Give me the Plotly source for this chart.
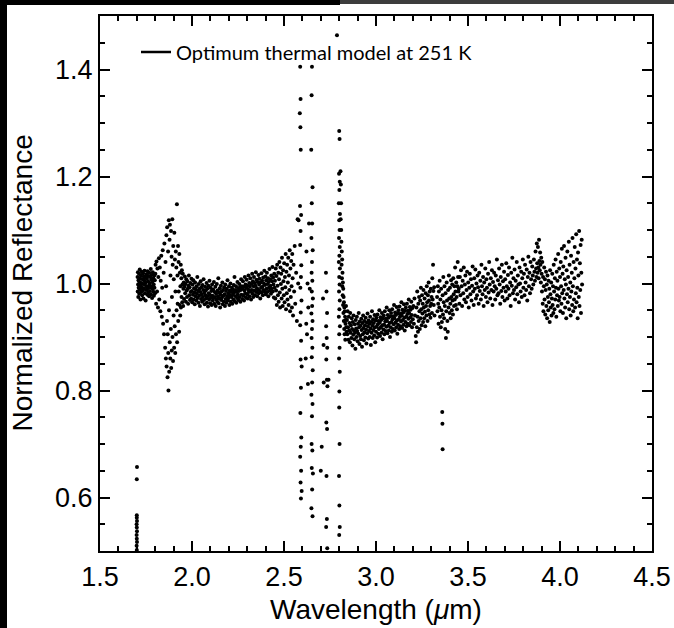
import plotly.graph_objects as go

# ---- data: (wavelength um, normalized reflectance) ----
seg_stack_170 = [(1.700,0.502),(1.699,0.510),(1.701,0.517),(1.700,0.523),(1.699,0.530),(1.701,0.537),(1.700,0.544),(1.699,0.550),(1.701,0.556),(1.700,0.562),(1.700,0.567),(1.700,0.634),(1.701,0.657)]

seg_band_170_180 = [(1.704,1.012),(1.705,0.985),(1.706,1.021),(1.707,0.998),(1.708,0.975),(1.709,1.006),(1.710,0.992),(1.712,1.018),(1.713,0.981),(1.714,1.003),(1.716,1.026),(1.717,0.989),(1.718,1.010),(1.720,0.970),(1.721,0.996),(1.722,1.015),(1.724,0.984),(1.725,1.001),(1.727,1.022),(1.728,0.993),(1.729,0.978),(1.731,1.008),(1.732,0.987),(1.734,1.019),(1.735,0.999),(1.736,0.972),(1.738,1.013),(1.739,0.990),(1.741,1.005),(1.742,1.024),(1.744,0.982),(1.745,0.997),(1.747,1.011),(1.748,0.968),(1.749,1.002),(1.751,0.988),(1.752,1.017),(1.754,0.994),(1.755,1.009),(1.757,0.979),(1.758,1.023),(1.760,0.991),(1.761,1.004),(1.762,0.983),(1.764,1.014),(1.765,0.996),(1.767,0.976),(1.768,1.020),(1.770,1.000),(1.771,0.986),(1.773,1.012),(1.774,0.993),(1.776,1.027),(1.777,0.980),(1.778,1.007),(1.780,0.995),(1.781,1.016),(1.783,0.973),(1.784,1.003),(1.786,0.990),(1.787,1.021),(1.789,0.985),(1.790,1.010),(1.792,0.998),(1.793,0.977),(1.795,1.015),(1.796,0.992),(1.798,1.006),(1.799,0.982),(1.801,1.018)]

seg_feature_185 = [(1.802,1.035),(1.805,0.962),(1.807,1.041),(1.810,0.985),(1.812,1.028),(1.815,0.955),(1.817,1.012),(1.820,1.047),(1.822,0.970),(1.825,1.030),(1.828,0.948),(1.830,1.005),(1.833,1.052),(1.836,0.938),(1.838,0.992),(1.841,1.062),(1.843,0.925),(1.846,1.020),(1.848,0.905),(1.850,1.075),(1.852,0.965),(1.854,0.880),(1.856,1.040),(1.858,0.860),(1.859,0.995),(1.861,1.090),(1.862,0.845),(1.864,0.930),(1.865,1.105),(1.867,0.825),(1.868,0.905),(1.870,1.060),(1.871,0.870),(1.872,0.800),(1.874,1.118),(1.875,0.950),(1.876,0.835),(1.878,1.082),(1.879,0.890),(1.880,1.110),(1.882,0.860),(1.883,1.015),(1.885,0.915),(1.886,1.098),(1.887,0.842),(1.889,1.050),(1.890,0.875),(1.891,0.975),(1.893,1.120),(1.894,0.900),(1.895,1.035),(1.897,0.855),(1.898,1.070),(1.900,0.940),(1.901,1.008),(1.903,0.880),(1.904,1.095),(1.906,0.920),(1.907,1.045),(1.909,0.870),(1.910,0.985),(1.912,1.060),(1.913,0.905),(1.915,1.030),(1.916,0.950),(1.918,1.148),(1.919,0.890),(1.921,1.015),(1.922,0.962),(1.924,1.070),(1.925,0.930),(1.927,1.040),(1.928,0.985),(1.930,0.910),(1.931,1.055),(1.933,0.960),(1.934,1.020),(1.936,0.940),(1.937,0.995),(1.939,1.035),(1.940,0.955),(1.942,1.010),(1.943,0.975),(1.945,1.025),(1.947,0.965),(1.948,0.998),(1.950,1.018),(1.952,0.958),(1.953,0.990)]

seg_band_195_245 = [(1.955,1.002),(1.957,0.971),(1.959,0.994),(1.961,1.013),(1.963,0.982),(1.965,0.999),(1.967,0.966),(1.969,1.008),(1.971,0.987),(1.973,0.975),
(1.975,1.004),(1.977,0.990),(1.979,0.962),(1.981,0.996),(1.983,1.015),(1.985,0.978),(1.987,0.993),(1.989,0.969),(1.991,1.001),(1.993,0.984),
(1.995,0.972),(1.997,1.009),(1.999,0.986),(2.001,0.965),(2.003,0.998),(2.005,0.979),(2.007,1.006),(2.009,0.970),(2.011,0.991),(2.013,0.983),
(2.015,0.961),(2.017,1.002),(2.019,0.976),(2.021,0.989),(2.023,0.968),(2.025,0.995),(2.027,0.981),(2.029,1.012),(2.031,0.973),(2.033,0.986),
(2.035,0.964),(2.037,0.999),(2.039,0.977),(2.041,0.990),(2.043,0.958),(2.045,0.984),(2.047,1.004),(2.049,0.971),(2.051,0.993),(2.053,0.980),
(2.055,0.966),(2.057,0.997),(2.059,0.975),(2.061,0.988),(2.063,1.008),(2.065,0.969),(2.067,0.983),(2.069,0.961),(2.071,0.994),(2.073,0.978),
(2.075,0.987),(2.077,0.972),(2.079,1.001),(2.081,0.964),(2.083,0.990),(2.085,0.976),(2.087,0.957),(2.089,0.996),(2.091,0.982),(2.093,0.970),
(2.095,1.005),(2.097,0.979),(2.099,0.963),(2.101,0.992),(2.103,0.974),(2.105,0.986),(2.107,0.960),(2.109,0.998),(2.111,0.977),(2.113,0.968),
(2.115,0.989),(2.117,0.973),(2.119,1.003),(2.121,0.962),(2.123,0.984),(2.125,0.975),(2.127,0.994),(2.129,0.958),(2.131,0.981),(2.133,0.970),
(2.135,0.999),(2.137,0.966),(2.139,0.987),(2.141,0.976),(2.143,1.010),(2.145,0.963),(2.147,0.983),(2.149,0.972),(2.151,0.991),(2.153,0.955),
(2.155,0.979),(2.157,0.996),(2.159,0.969),(2.161,0.985),(2.163,0.974),(2.165,1.002),(2.167,0.961),(2.169,0.988),(2.171,0.977),(2.173,0.966),
(2.175,0.993),(2.177,0.980),(2.179,0.958),(2.181,0.998),(2.183,0.971),(2.185,0.986),(2.187,0.964),(2.189,0.990),(2.191,0.976),(2.193,1.006),
(2.195,0.968),(2.197,0.982),(2.199,0.973),(2.201,0.995),(2.203,0.960),(2.205,0.987),(2.207,0.978),(2.209,1.000),(2.211,0.966),(2.213,0.984),
(2.215,0.975),(2.217,0.992),(2.219,0.962),(2.221,0.989),(2.223,0.979),(2.225,0.970),(2.227,0.997),(2.229,0.983),(2.231,1.012),(2.233,0.967),
(2.235,0.988),(2.237,0.976),(2.239,0.995),(2.241,0.964),(2.243,0.985),(2.245,0.973),(2.247,1.003),(2.249,0.980),(2.251,0.991),(2.253,0.969),
(2.255,0.986),(2.257,0.999),(2.259,0.975),(2.261,0.993),(2.263,0.966),(2.265,0.988),(2.267,1.008),(2.269,0.979),(2.271,0.995),(2.273,0.971),
(2.275,0.990),(2.277,1.004),(2.279,0.977),(2.281,0.994),(2.283,0.968),(2.285,0.987),(2.287,1.012),(2.289,0.982),(2.291,0.998),(2.293,0.974),
(2.295,0.992),(2.297,1.007),(2.299,0.980),(2.301,0.996),(2.303,0.972),(2.305,0.989),(2.307,1.015),(2.309,0.984),(2.311,1.001),(2.313,0.976),
(2.315,0.994),(2.317,1.010),(2.319,0.985),(2.321,0.970),(2.323,0.999),(2.325,0.988),(2.327,1.018),(2.329,0.981),(2.331,1.004),(2.333,0.975),
(2.335,0.995),(2.337,1.012),(2.339,0.987),(2.341,1.001),(2.343,0.978),(2.345,0.996),(2.347,1.021),(2.349,0.984),(2.351,1.007),(2.353,0.991),
(2.355,0.976),(2.357,1.003),(2.359,0.989),(2.361,1.016),(2.363,0.982),(2.365,0.998),(2.367,1.009),(2.369,0.986),(2.371,0.972),(2.373,1.002),
(2.375,0.992),(2.377,1.019),(2.379,0.983),(2.381,1.005),(2.383,0.994),(2.385,0.978),(2.387,1.011),(2.389,0.988),(2.391,1.000),(2.393,1.024),
(2.395,0.985),(2.397,0.997),(2.399,1.013),(2.401,0.980),(2.403,1.006),(2.405,0.990),(2.407,1.020),(2.409,0.984),(2.411,0.999),(2.413,1.010),
(2.415,0.976),(2.417,1.003),(2.419,0.993),(2.421,1.027),(2.423,0.987),(2.425,1.008),(2.427,0.996),(2.429,0.981),(2.431,1.015),(2.433,0.990),
(2.435,1.004),(2.437,1.031),(2.439,0.985),(2.441,1.011),(2.443,0.998),(2.445,0.974),(2.447,1.018),(2.449,0.992)]

seg_scatter_245_258 = [(2.451,1.005),(2.453,0.972),(2.455,1.028),(2.457,0.987),(2.459,1.014),(2.461,0.960),(2.463,1.035),(2.465,0.996),(2.467,0.978),(2.469,1.020),
(2.471,0.966),(2.473,1.008),(2.475,1.040),(2.477,0.983),(2.479,0.955),(2.481,1.030),(2.483,0.999),(2.485,1.018),(2.487,0.972),(2.489,1.048),
(2.491,0.990),(2.493,0.958),(2.495,1.025),(2.497,1.004),(2.499,0.978),(2.501,1.038),(2.503,0.965),(2.505,1.012),(2.507,0.993),(2.509,1.055),
(2.511,0.952),(2.513,1.022),(2.515,0.982),(2.517,1.035),(2.519,0.970),(2.521,1.002),(2.523,1.048),(2.525,0.960),(2.527,1.015),(2.529,0.988),
(2.531,1.062),(2.533,0.948),(2.535,1.028),(2.537,0.975),(2.539,1.042),(2.541,0.995),(2.543,0.955),(2.545,1.055),(2.547,1.010),(2.549,0.940),
(2.552,1.035),(2.555,0.985),(2.558,1.070),(2.561,0.962),(2.566,1.020),(2.570,0.930),(2.574,1.120),(2.577,1.000),(2.579,1.118)]

seg_water_259_284 = [(2.588,1.405),(2.590,1.345),(2.586,1.318),(2.589,1.292),(2.591,1.250),(2.587,1.145),(2.593,1.128),(2.590,1.098),(2.588,1.072),(2.594,1.034),(2.592,1.012),(2.589,0.992),(2.595,0.968),(2.591,0.946),(2.588,0.922),(2.593,0.893),(2.590,0.858),(2.596,0.845),(2.592,0.805),(2.589,0.758),(2.594,0.712),(2.591,0.695),(2.588,0.676),(2.593,0.650),(2.590,0.628),(2.596,0.612),(2.592,0.598),
(2.652,1.405),(2.650,1.352),(2.648,1.250),(2.655,1.180),(2.651,1.150),(2.653,1.112),(2.649,1.085),(2.656,1.062),(2.652,1.040),(2.650,1.020),(2.654,1.005),(2.651,0.985),(2.657,0.972),(2.653,0.958),(2.649,0.944),(2.655,0.930),(2.652,0.915),(2.650,0.898),(2.654,0.880),(2.651,0.862),(2.656,0.838),(2.653,0.815),(2.649,0.792),(2.655,0.775),(2.652,0.752),(2.650,0.700),(2.654,0.688),(2.651,0.655),(2.657,0.645),(2.653,0.615),(2.649,0.580),(2.655,0.565),
(2.622,1.060),(2.628,1.000),(2.632,0.955),(2.625,0.905),(2.618,0.860),(2.630,0.812),(2.621,0.925),(2.636,1.112),(2.640,0.990),
(2.728,1.020),(2.731,0.985),(2.734,0.945),(2.729,0.920),(2.732,0.898),(2.735,0.880),(2.730,0.858),(2.733,0.820),(2.736,0.808),(2.730,0.740),(2.734,0.728),(2.731,0.640),(2.733,0.560),(2.729,0.545),(2.735,0.505),(2.742,0.820),(2.716,0.815),(2.700,0.650),(2.705,0.695),(2.715,0.885),(2.712,0.972),
(2.788,1.464),(2.800,1.285),(2.802,1.270),(2.799,1.205),(2.803,1.190),(2.801,1.175),(2.798,1.150),(2.804,1.130),(2.800,1.118),(2.802,1.100),(2.799,1.085),(2.803,1.068),(2.801,1.052),(2.798,1.040),(2.804,1.028),(2.800,1.012),(2.802,0.998),(2.799,0.985),(2.803,0.968),(2.801,0.952),(2.798,0.938),(2.804,0.920),(2.800,0.905),(2.802,0.880),(2.799,0.860),(2.803,0.835),(2.801,0.798),(2.800,0.768),(2.802,0.700),(2.799,0.640),(2.801,0.585),(2.803,0.545),(2.800,0.530),
(2.807,1.210),(2.809,1.185),(2.808,1.120),(2.811,1.100),(2.810,1.150),(2.812,1.078),(2.814,1.060),(2.813,1.035),(2.816,1.045),(2.815,1.010),(2.818,1.020),(2.817,0.995),(2.820,1.002),(2.819,0.978),(2.822,0.990),(2.821,0.960),(2.824,0.975),(2.823,0.945),(2.826,0.965),(2.825,0.930),(2.828,0.955),(2.827,0.915),(2.830,0.948),(2.829,0.905),(2.832,0.938),(2.834,0.925),(2.833,0.895),(2.836,0.932),(2.838,0.918),(2.837,0.958),(2.840,0.910)]

seg_band_284_320 = [(2.842,0.932),(2.844,0.905),(2.846,0.948),(2.848,0.918),(2.850,0.895),(2.852,0.938),(2.854,0.912),(2.856,0.926),(2.858,0.890),(2.860,0.945),
(2.862,0.908),(2.864,0.922),(2.866,0.898),(2.868,0.935),(2.870,0.915),(2.872,0.884),(2.874,0.928),(2.876,0.904),(2.878,0.940),(2.880,0.912),
(2.882,0.896),(2.884,0.924),(2.886,0.908),(2.888,0.878),(2.890,0.932),(2.892,0.916),(2.894,0.900),(2.896,0.938),(2.898,0.911),(2.900,0.892),
(2.902,0.925),(2.904,0.906),(2.906,0.945),(2.908,0.918),(2.910,0.887),(2.912,0.929),(2.914,0.902),(2.916,0.921),(2.918,0.896),(2.920,0.934),
(2.922,0.913),(2.924,0.882),(2.926,0.926),(2.928,0.905),(2.930,0.940),(2.932,0.917),(2.934,0.894),(2.936,0.930),(2.938,0.909),(2.940,0.922),
(2.942,0.899),(2.944,0.936),(2.946,0.914),(2.948,0.888),(2.950,0.927),(2.952,0.907),(2.954,0.944),(2.956,0.920),(2.958,0.897),(2.960,0.931),
(2.962,0.911),(2.964,0.925),(2.966,0.900),(2.968,0.938),(2.970,0.916),(2.972,0.885),(2.974,0.928),(2.976,0.908),(2.978,0.948),(2.980,0.921),
(2.982,0.898),(2.984,0.933),(2.986,0.913),(2.988,0.926),(2.990,0.903),(2.992,0.941),(2.994,0.918),(2.996,0.890),(2.998,0.931),(3.000,0.910),
(3.002,0.936),(3.004,0.919),(3.006,0.899),(3.008,0.942),(3.010,0.924),(3.012,0.906),(3.014,0.930),(3.016,0.915),(3.018,0.950),(3.020,0.927),
(3.022,0.902),(3.024,0.937),(3.026,0.918),(3.028,0.932),(3.030,0.908),(3.032,0.945),(3.034,0.922),(3.036,0.896),(3.038,0.935),(3.040,0.914),
(3.042,0.940),(3.044,0.923),(3.046,0.905),(3.048,0.948),(3.050,0.929),(3.052,0.911),(3.054,0.934),(3.056,0.919),(3.058,0.955),(3.060,0.930),
(3.062,0.907),(3.064,0.941),(3.066,0.921),(3.068,0.936),(3.070,0.912),(3.072,0.950),(3.074,0.926),(3.076,0.900),(3.078,0.939),(3.080,0.918),
(3.082,0.945),(3.084,0.928),(3.086,0.910),(3.088,0.952),(3.090,0.933),(3.092,0.915),(3.094,0.939),(3.096,0.924),(3.098,0.960),(3.100,0.935),
(3.102,0.912),(3.104,0.946),(3.106,0.927),(3.108,0.941),(3.110,0.918),(3.112,0.956),(3.114,0.931),(3.116,0.906),(3.118,0.944),(3.120,0.923),
(3.122,0.950),(3.124,0.933),(3.126,0.915),(3.128,0.957),(3.130,0.938),(3.132,0.920),(3.134,0.944),(3.136,0.929),(3.138,0.965),(3.140,0.940),
(3.142,0.917),(3.144,0.951),(3.146,0.932),(3.148,0.946),(3.150,0.923),(3.152,0.961),(3.154,0.936),(3.156,0.912),(3.158,0.949),(3.160,0.928),
(3.162,0.955),(3.164,0.938),(3.166,0.920),(3.168,0.962),(3.170,0.943),(3.172,0.925),(3.174,0.949),(3.176,0.934),(3.178,0.970),(3.180,0.945),
(3.182,0.922),(3.184,0.956),(3.186,0.937),(3.188,0.951),(3.190,0.928),(3.192,0.966),(3.194,0.941),(3.196,0.918),(3.198,0.954),(3.200,0.933)]

seg_band_320_345 = [(3.203,0.958),(3.206,0.925),(3.209,0.972),(3.212,0.940),(3.216,0.902),(3.218,0.890),(3.220,0.955),(3.222,0.918),(3.224,0.985),(3.226,0.938),
(3.228,0.910),(3.230,0.962),(3.232,0.930),(3.234,0.975),(3.236,0.948),(3.238,0.915),(3.240,0.968),(3.242,0.935),(3.244,0.992),(3.246,0.952),
(3.248,0.922),(3.250,0.978),(3.252,0.944),(3.254,0.962),(3.256,0.928),(3.258,0.988),(3.260,0.955),(3.262,0.935),(3.264,0.972),(3.266,0.947),
(3.268,0.920),(3.270,0.982),(3.272,0.958),(3.274,0.940),(3.276,0.995),(3.278,0.965),(3.280,0.930),(3.282,0.978),(3.284,0.950),(3.286,1.002),
(3.288,0.968),(3.290,0.942),(3.292,0.985),(3.294,0.958),(3.296,0.936),(3.298,0.990),(3.300,0.962),(3.302,0.975),(3.304,0.945),(3.306,1.010),
(3.308,0.970),(3.310,1.035),(3.312,0.986),(3.314,0.960),(3.316,0.993),(3.318,0.940),
(3.332,0.975),(3.334,0.948),(3.336,0.995),(3.338,0.962),(3.340,0.925),(3.342,0.985),(3.344,0.955),(3.346,1.005),(3.348,0.938),(3.350,0.970),
(3.352,0.918),(3.354,0.990),(3.356,0.950),(3.358,0.928),(3.360,0.760),(3.361,0.738),(3.362,0.690),(3.362,0.978),(3.364,0.942),(3.366,1.012),(3.368,0.965),
(3.370,0.935),(3.372,0.995),(3.374,0.958),(3.376,0.915),(3.378,0.982),(3.380,0.898),(3.382,0.948),(3.384,1.002),(3.386,0.968),(3.388,0.930),
(3.390,0.910),(3.392,0.988),(3.394,0.955),(3.396,1.015),(3.398,0.972),(3.400,0.945),(3.402,0.992),(3.404,0.962),(3.406,0.935),(3.408,1.006),
(3.410,0.975),(3.412,0.950),(3.414,0.998),(3.416,0.968),(3.418,0.942),(3.420,1.010),(3.422,0.980),(3.424,0.958),(3.426,0.995),(3.428,0.970),
(3.430,1.030),(3.432,0.985),(3.434,0.960),(3.436,1.002),(3.438,0.975),(3.440,0.952),(3.442,0.995),(3.444,1.040),(3.446,1.012),(3.448,0.985)]

seg_band_345_390 = [(3.450,0.990),(3.453,0.962),(3.456,1.012),(3.459,0.978),(3.462,1.025),(3.465,0.995),(3.468,0.958),(3.471,1.005),(3.474,0.982),(3.477,1.030),
(3.480,0.970),(3.483,0.998),(3.486,1.015),(3.489,0.965),(3.492,0.988),(3.495,1.022),(3.498,0.975),(3.501,1.002),(3.504,0.955),(3.507,0.992),
(3.510,1.018),(3.513,0.980),(3.516,1.008),(3.519,0.968),(3.522,0.996),(3.525,1.032),(3.528,0.985),(3.531,0.960),(3.534,1.010),(3.537,0.990),
(3.540,1.026),(3.543,0.972),(3.546,1.000),(3.549,0.978),(3.552,1.015),(3.555,0.993),(3.558,0.962),(3.561,1.020),(3.564,0.986),(3.567,1.005),
(3.570,0.970),(3.573,1.035),(3.576,0.995),(3.579,0.980),(3.582,1.012),(3.585,0.958),(3.588,1.002),(3.591,0.988),(3.594,1.028),(3.597,0.975),
(3.600,1.008),(3.603,0.992),(3.606,0.965),(3.609,1.018),(3.612,0.983),(3.615,1.040),(3.618,0.998),(3.621,0.972),(3.624,1.010),(3.627,0.988),
(3.630,1.025),(3.633,0.960),(3.636,1.003),(3.639,0.985),(3.642,1.020),(3.645,0.995),(3.648,0.970),(3.651,1.015),(3.654,0.990),(3.657,1.045),
(3.660,0.978),(3.663,1.006),(3.666,0.982),(3.669,1.028),(3.672,0.998),(3.675,0.962),(3.678,1.012),(3.681,0.986),(3.684,1.035),(3.687,0.975),
(3.690,1.004),(3.693,0.992),(3.696,1.022),(3.699,0.968),(3.702,1.008),(3.705,0.985),(3.708,1.038),(3.711,0.995),(3.714,0.972),(3.717,1.016),
(3.720,0.990),(3.723,1.030),(3.726,0.978),(3.729,1.002),(3.732,0.958),(3.735,1.020),(3.738,0.996),(3.741,1.048),(3.744,0.982),(3.747,1.010),
(3.750,0.988),(3.753,1.026),(3.756,0.970),(3.759,1.005),(3.762,0.993),(3.765,1.040),(3.768,0.980),(3.771,1.015),(3.774,0.998),(3.777,0.965),
(3.780,1.030),(3.783,1.000),(3.786,0.985),(3.789,1.022),(3.792,0.975),(3.795,1.010),(3.798,1.045),(3.801,0.992),(3.804,1.018),(3.807,0.978),
(3.810,1.035),(3.813,1.002),(3.816,0.988),(3.819,1.026),(3.822,0.968),(3.825,1.012),(3.828,1.050),(3.831,0.995),(3.834,1.020),(3.837,0.982),
(3.840,1.040),(3.843,1.008),(3.846,0.990),(3.849,1.032),(3.852,1.015),(3.855,0.998),(3.858,1.045),(3.861,1.022),(3.864,1.005),(3.867,1.060),
(3.870,1.028),(3.872,1.012),(3.874,1.075),(3.876,1.038),(3.878,1.020),(3.880,1.068),(3.882,1.030),(3.884,1.010),(3.886,1.082),(3.888,1.042),
(3.890,1.025),(3.892,1.058),(3.894,1.035),(3.896,1.002),(3.898,1.048),(3.900,1.018)]

seg_band_390_412 = [(3.902,0.985),(3.904,1.040),(3.906,0.962),(3.908,1.012),(3.910,0.948),(3.912,0.995),(3.914,1.030),(3.916,0.970),(3.918,1.008),(3.920,0.942),
(3.922,0.988),(3.924,1.022),(3.926,0.958),(3.928,0.998),(3.930,0.935),(3.932,1.015),(3.934,0.975),(3.936,0.950),(3.938,1.005),(3.940,0.965),
(3.942,0.990),(3.944,0.928),(3.946,1.025),(3.948,0.980),(3.950,0.955),(3.952,1.002),(3.954,0.940),(3.956,0.972),(3.958,1.018),(3.960,0.960),
(3.962,0.995),(3.964,0.945),(3.966,1.035),(3.968,0.985),(3.970,0.952),(3.972,1.010),(3.974,0.970),(3.976,1.045),(3.978,0.992),(3.980,0.938),
(3.982,1.022),(3.984,0.978),(3.986,1.005),(3.988,0.958),(3.990,1.055),(3.992,0.990),(3.994,0.968),(3.996,1.028),(3.998,0.975),(4.000,1.012),
(4.002,0.948),(4.004,1.040),(4.006,0.995),(4.008,0.962),(4.010,1.065),(4.012,0.982),(4.014,1.018),(4.016,0.945),(4.018,1.032),(4.020,0.988),
(4.022,1.070),(4.024,0.972),(4.026,1.008),(4.028,0.955),(4.030,1.048),(4.032,0.998),(4.034,0.935),(4.036,1.025),(4.038,0.980),(4.040,1.060),
(4.042,0.965),(4.044,1.012),(4.046,0.990),(4.048,1.078),(4.050,0.952),(4.052,1.035),(4.054,0.975),(4.056,1.002),(4.058,0.940),(4.060,1.052),
(4.062,0.985),(4.064,1.020),(4.066,0.960),(4.068,1.085),(4.070,0.995),(4.072,0.948),(4.074,1.040),(4.076,0.970),(4.078,1.010),(4.080,1.068),
(4.082,0.955),(4.084,1.028),(4.086,0.982),(4.088,1.092),(4.090,0.965),(4.092,1.045),(4.094,0.992),(4.096,0.935),(4.098,1.058),(4.100,1.015),
(4.102,0.975),(4.104,1.098),(4.106,0.958),(4.108,1.038),(4.110,0.988),(4.112,1.072),(4.114,0.945),(4.116,1.020),(4.118,1.082),(4.120,0.998)]

segments = [seg_stack_170, seg_band_170_180, seg_feature_185, seg_band_195_245,
            seg_scatter_245_258, seg_water_259_284, seg_band_284_320,
            seg_band_320_345, seg_band_345_390, seg_band_390_412]

wavelength = [p[0] for s in segments for p in s]
reflectance = [p[1] for s in segments for p in s]

legend_label = "Optimum thermal model at 251 K"
x_title = "Wavelength (<i>\u03bc</i>m)"
y_title = "Normalized Reflectance"

fig = go.Figure()
fig.add_trace(go.Scatter(
    x=wavelength, y=reflectance, mode="markers",
    marker=dict(color="black", size=4, line=dict(width=0)),
    showlegend=False, hoverinfo="skip"))
fig.add_trace(go.Scatter(
    x=[None], y=[None], mode="lines", name=legend_label,
    line=dict(color="black", width=2.5), showlegend=True))

axis_common = dict(
    showline=True, linecolor="black", linewidth=2, mirror="ticks",
    ticks="inside", ticklen=10, tickwidth=2, tickcolor="black",
    showgrid=False, zeroline=False,
    tickfont=dict(family="Liberation Sans, Arial", size=27, color="black"),
)

fig.update_xaxes(range=[1.5, 4.5], tick0=1.5, dtick=0.5, tickformat=".1f",
                 minor=dict(ticks="inside", ticklen=5, tickwidth=2, tickcolor="black", tick0=1.5, dtick=0.1),
                 ticklabelstandoff=1, **axis_common)
fig.update_yaxes(range=[0.5, 1.5], tick0=0.6, dtick=0.2, tickformat=".1f",
                 minor=dict(ticks="inside", ticklen=5, tickwidth=2, tickcolor="black", tick0=0.5, dtick=0.05),
                 ticklabelstandoff=0, **axis_common)

W, H = 674, 628
L, R, T, B = 100, 22, 16, 77
pw, ph = W - L - R, H - T - B

def px_x(px):
    return (px - L) / pw

def px_y(py):
    return (H - B - py) / ph

fig.add_annotation(text=x_title, xref="paper", yref="paper", x=0.5, y=px_y(609),
                   xanchor="center", yanchor="middle", showarrow=False,
                   font=dict(family="Liberation Sans, Arial", size=28, color="black"))
fig.add_annotation(text=y_title, xref="paper", yref="paper", x=px_x(22), y=0.5,
                   xanchor="center", yanchor="middle", showarrow=False, textangle=-90,
                   font=dict(family="Liberation Sans, Arial", size=28, color="black"))

# screenshot edge strips
fig.add_shape(type="rect", xref="paper", yref="paper", x0=px_x(0), x1=px_x(7), y0=px_y(H), y1=px_y(0),
              fillcolor="black", line=dict(width=0), layer="above")
fig.add_shape(type="rect", xref="paper", yref="paper", x0=px_x(0), x1=px_x(340), y0=px_y(5), y1=px_y(0),
              fillcolor="black", line=dict(width=0), layer="above")
fig.add_shape(type="rect", xref="paper", yref="paper", x0=px_x(340), x1=px_x(W), y0=px_y(4), y1=px_y(0),
              fillcolor="#3d3d3d", line=dict(width=0), layer="above")

fig.update_layout(
    width=W, height=H, margin=dict(l=L, r=R, t=T, b=B, autoexpand=False),
    paper_bgcolor="white", plot_bgcolor="white",
    legend=dict(x=px_x(136), y=px_y(52), xanchor="left", yanchor="middle",
                bgcolor="rgba(0,0,0,0)", borderwidth=0,
                font=dict(family="Lato", size=20, color="black")),
)

fig.write_html("out.html")
